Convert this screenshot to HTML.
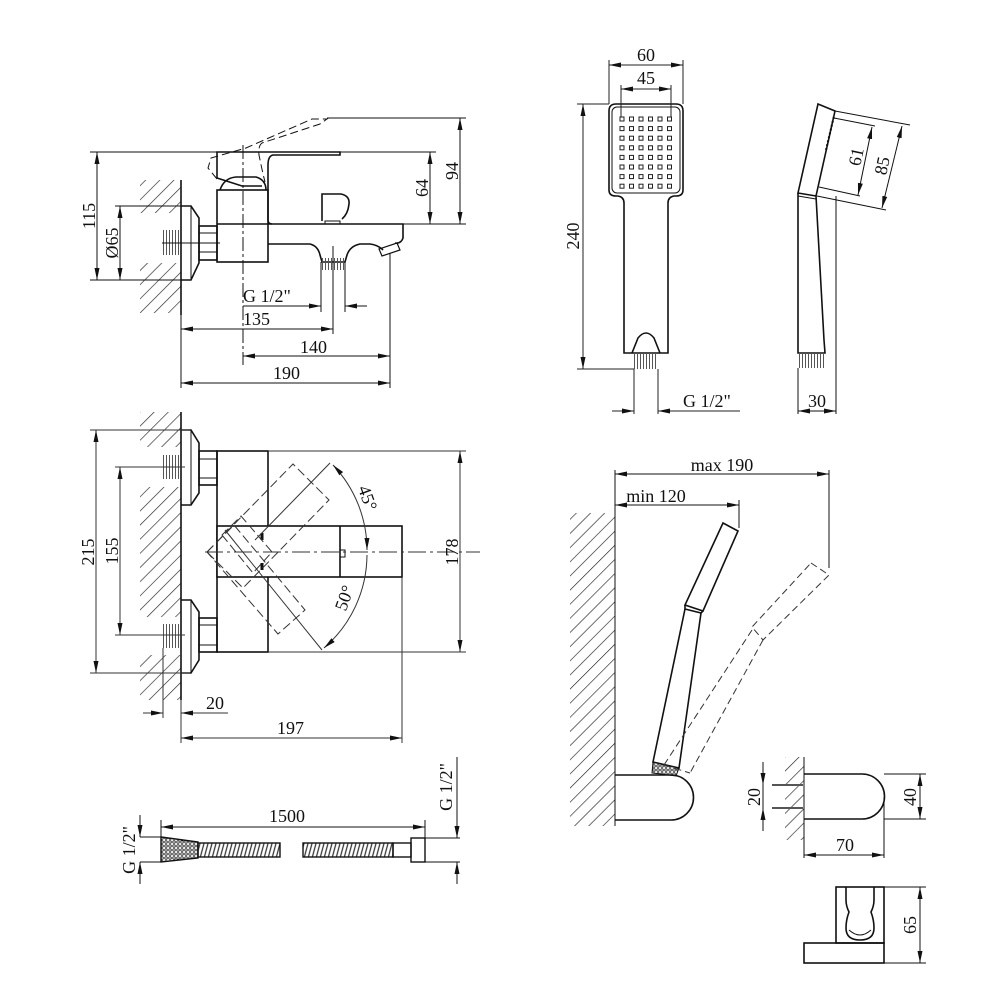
<!DOCTYPE html>
<html><head><meta charset="utf-8"><style>
html,body{margin:0;padding:0;background:#fff}
svg{display:block}
text{font-family:"Liberation Serif",serif;font-size:18px;fill:#111}
</style></head><body>
<svg width="1000" height="1000" viewBox="0 0 1000 1000" xmlns="http://www.w3.org/2000/svg">
<defs>
<pattern id="h" width="10" height="10" patternUnits="userSpaceOnUse" patternTransform="rotate(45)">
<line x1="0" y1="0" x2="0" y2="10" stroke="#222" stroke-width="1.3"/>
</pattern>
<pattern id="th" width="3" height="3" patternUnits="userSpaceOnUse">
<line x1="1.5" y1="0" x2="1.5" y2="3" stroke="#555" stroke-width="1"/>
</pattern>
<pattern id="mesh" width="4" height="4" patternUnits="userSpaceOnUse">
<circle cx="2" cy="2" r="1.3" fill="none" stroke="#222" stroke-width="0.9"/>
</pattern>
<pattern id="coil" width="4" height="16" patternUnits="userSpaceOnUse" patternTransform="skewX(-15)">
<line x1="2" y1="0" x2="2" y2="16" stroke="#333" stroke-width="1.3"/>
</pattern>
<marker id="a" markerWidth="12" markerHeight="6" refX="12" refY="3" orient="auto-start-reverse" markerUnits="userSpaceOnUse">
<path d="M0,0.5 L12,3 L0,5.5 Z" fill="#111"/>
</marker>
</defs>

<g fill="none" stroke="#111" stroke-width="1.6">
<rect x="140" y="180" width="41" height="33" fill="url(#h)" stroke="none"/>
<rect x="140" y="263" width="41" height="50" fill="url(#h)" stroke="none"/>
<line x1="181" y1="180" x2="181" y2="315"/>
<rect x="163" y="230" width="17" height="25" fill="url(#th)" stroke="none"/>
<path d="M181,206 H191 L199,218 V263 L191,280 H181"/>
<line x1="191" y1="206" x2="191" y2="280" stroke-width="1"/>
<rect x="199" y="226" width="18" height="34"/>
<line x1="199" y1="233" x2="217" y2="233" stroke-width="1"/>
<line x1="199" y1="252" x2="217" y2="252" stroke-width="1"/>
<rect x="217" y="190" width="51" height="72"/>
<line x1="217" y1="224" x2="268" y2="224"/>
<path d="M220,190 Q224,178 236,177 L256,177 Q266,180 266,190"/>
<path d="M217,178 V152 H340 V155 H273 Q268,156 268,165 V220 Q268,224 272,224"/>
<path d="M217,178 L242,186 H262"/>
<path d="M217,179 L208,168 L211,158 L246,148 L312,119 H327 L320,124 L262,143 Q258,146 259,155 Q262,170 265,182" stroke-dasharray="8,4" stroke-width="1"/>
<path d="M268,224 H403 V238 Q401,244 395,243"/>
<path d="M268,244 H310 Q318,246 320,255 L322,262 H345 L347,255 Q350,246 360,244 H370 Q378,245 383,250"/>
<path d="M379,249 L397,243 L400,250 L382,256 Z" stroke-width="1.2"/>
<rect x="321" y="258" width="24" height="12" fill="url(#th)" stroke="none"/>
<path d="M322,221 V194 H341 Q350,196 349,204 Q348,214 342,219"/>
<rect x="325" y="221" width="15" height="3" stroke-width="1"/>
<line x1="243" y1="145" x2="243" y2="365" stroke-width="1" stroke-dasharray="14,3,3,3"/>
<line x1="162" y1="243" x2="220" y2="243" stroke-width="1"/>
</g>

<g fill="none" stroke="#111" stroke-width="1">
<line x1="90" y1="152" x2="217" y2="152"/>
<line x1="90" y1="280" x2="181" y2="280"/>
<line x1="97" y1="152" x2="97" y2="280" marker-start="url(#a)" marker-end="url(#a)"/>
<line x1="115" y1="206" x2="181" y2="206"/>
<line x1="120" y1="206" x2="120" y2="280" marker-start="url(#a)" marker-end="url(#a)"/>
<line x1="340" y1="152" x2="436" y2="152"/>
<line x1="403" y1="224" x2="466" y2="224"/>
<line x1="327" y1="118" x2="466" y2="118"/>
<line x1="430" y1="152" x2="430" y2="224" marker-start="url(#a)" marker-end="url(#a)"/>
<line x1="460" y1="118" x2="460" y2="224" marker-start="url(#a)" marker-end="url(#a)"/>
<line x1="321" y1="262" x2="321" y2="312"/>
<line x1="345" y1="262" x2="345" y2="312"/>
<line x1="243" y1="306" x2="321" y2="306" marker-end="url(#a)"/>
<line x1="367" y1="306" x2="345" y2="306" marker-end="url(#a)"/>
<line x1="333" y1="246" x2="333" y2="334"/>
<line x1="181" y1="315" x2="181" y2="388"/>
<line x1="181" y1="329" x2="333" y2="329" marker-start="url(#a)" marker-end="url(#a)"/>
<line x1="390" y1="253" x2="390" y2="388"/>
<line x1="243" y1="356" x2="390" y2="356" marker-start="url(#a)" marker-end="url(#a)"/>
<line x1="181" y1="383" x2="390" y2="383" marker-start="url(#a)" marker-end="url(#a)"/>
</g>
<text x="243" y="302">G 1/2"</text>
<text x="243" y="325">135</text>
<text x="300" y="353">140</text>
<text x="273" y="379">190</text>
<text transform="translate(95,216) rotate(-90)" text-anchor="middle">115</text>
<text transform="translate(118,243) rotate(-90)" text-anchor="middle">Ø65</text>
<text transform="translate(428,188) rotate(-90)" text-anchor="middle">64</text>
<text transform="translate(458,171) rotate(-90)" text-anchor="middle">94</text>

<g fill="none" stroke="#111" stroke-width="1.6">
<rect x="140" y="412" width="41" height="35" fill="url(#h)" stroke="none"/>
<rect x="140" y="487" width="41" height="130" fill="url(#h)" stroke="none"/>
<rect x="140" y="655" width="41" height="45" fill="url(#h)" stroke="none"/>
<line x1="181" y1="412" x2="181" y2="700"/>
<rect x="163" y="455" width="17" height="24" fill="url(#th)" stroke="none"/>
<rect x="163" y="624" width="17" height="24" fill="url(#th)" stroke="none"/>
<path d="M181,430 H191 L199,443 V493 L191,505 H181"/>
<line x1="191" y1="430" x2="191" y2="505" stroke-width="1"/>
<rect x="199" y="451" width="18" height="34"/>
<line x1="199" y1="459" x2="217" y2="459" stroke-width="1"/>
<line x1="199" y1="478" x2="217" y2="478" stroke-width="1"/>
<path d="M181,600 H191 L199,612 V660 L191,673 H181"/>
<line x1="191" y1="600" x2="191" y2="673" stroke-width="1"/>
<rect x="199" y="618" width="18" height="34"/>
<line x1="199" y1="625" x2="217" y2="625" stroke-width="1"/>
<line x1="199" y1="645" x2="217" y2="645" stroke-width="1"/>
<rect x="217" y="451" width="51" height="201"/>
<rect x="217" y="526" width="185" height="51" fill="#fff"/>
<line x1="340" y1="526" x2="340" y2="577"/>
<path d="M340,550 H345 V557 H340" stroke-width="1"/>
<line x1="262" y1="533" x2="262" y2="540" stroke-width="3"/>
<line x1="262" y1="563" x2="262" y2="570" stroke-width="3"/>
</g>
<g fill="none" stroke="#333" stroke-width="1">
<line x1="205" y1="552" x2="480" y2="552" stroke-dasharray="18,4,3,4"/>
<g stroke-dasharray="9,4">
<polygon points="207,552 293,464 329,500 243,588"/>
<polygon points="207,552 234,525 305,610 278,634"/>
<polygon points="222,535 241,516 272,552 253,573"/>
</g>
<line x1="255" y1="540" x2="330" y2="463"/>
<line x1="225" y1="530" x2="322" y2="650"/>
<path d="M333,465 A124,124 0 0 1 367,550" marker-start="url(#a)" marker-end="url(#a)"/>
<path d="M367,555 A124,124 0 0 1 324,648" marker-end="url(#a)"/>
<line x1="90" y1="430" x2="190" y2="430"/>
<line x1="90" y1="673" x2="190" y2="673"/>
<line x1="96" y1="430" x2="96" y2="673" marker-start="url(#a)" marker-end="url(#a)"/>
<line x1="115" y1="467" x2="185" y2="467"/>
<line x1="115" y1="635" x2="185" y2="635"/>
<line x1="120" y1="467" x2="120" y2="635" marker-start="url(#a)" marker-end="url(#a)"/>
<line x1="268" y1="451" x2="466" y2="451"/>
<line x1="268" y1="652" x2="466" y2="652"/>
<line x1="460" y1="451" x2="460" y2="652" marker-start="url(#a)" marker-end="url(#a)"/>
<line x1="163" y1="648" x2="163" y2="718"/>
<line x1="143" y1="713" x2="163" y2="713" marker-end="url(#a)"/>
<line x1="228" y1="713" x2="181" y2="713" marker-end="url(#a)"/>
<line x1="181" y1="700" x2="181" y2="743"/>
<line x1="402" y1="577" x2="402" y2="743"/>
<line x1="181" y1="738" x2="402" y2="738" marker-start="url(#a)" marker-end="url(#a)"/>
</g>
<text x="206" y="709">20</text>
<text x="277" y="734">197</text>
<text transform="translate(94,552) rotate(-90)" text-anchor="middle">215</text>
<text transform="translate(118,551) rotate(-90)" text-anchor="middle">155</text>
<text transform="translate(458,552) rotate(-90)" text-anchor="middle">178</text>
<text transform="translate(362,500) rotate(70)" text-anchor="middle">45°</text>
<text transform="translate(350,600) rotate(-70)" text-anchor="middle">50°</text>

<g fill="none" stroke="#111" stroke-width="1.4">
<path d="M161,837 L198,842 V858 L161,862 Z" fill="url(#mesh)"/>
<rect x="198" y="843" width="82" height="14" fill="url(#coil)"/>
<rect x="303" y="843" width="90" height="14" fill="url(#coil)"/>
<rect x="393" y="843" width="18" height="14"/>
<rect x="411" y="838" width="14" height="24"/>
</g>
<g fill="none" stroke="#111" stroke-width="1">
<line x1="161" y1="820" x2="161" y2="837"/>
<line x1="425" y1="820" x2="425" y2="838"/>
<line x1="161" y1="827" x2="425" y2="827" marker-start="url(#a)" marker-end="url(#a)"/>
<line x1="140" y1="837" x2="161" y2="837"/>
<line x1="140" y1="862" x2="161" y2="862"/>
<line x1="140" y1="815" x2="140" y2="837" marker-end="url(#a)"/>
<line x1="140" y1="884" x2="140" y2="862" marker-end="url(#a)"/>
<line x1="425" y1="838" x2="460" y2="838"/>
<line x1="425" y1="862" x2="460" y2="862"/>
<line x1="457" y1="757" x2="457" y2="838" marker-end="url(#a)"/>
<line x1="457" y1="884" x2="457" y2="862" marker-end="url(#a)"/>
</g>
<text x="287" y="822" text-anchor="middle">1500</text>
<text transform="translate(135,850) rotate(-90)" text-anchor="middle">G 1/2"</text>
<text transform="translate(452,787) rotate(-90)" text-anchor="middle">G 1/2"</text>

<g fill="none" stroke="#111" stroke-width="1.6">
<path d="M616,104 H676 Q683,104 683,111 V190 Q683,196 676,196 H674 Q668,197 668,203 V353 H624 V203 Q624,197 618,196 H616 Q609,196 609,190 V111 Q609,104 616,104 Z"/>
<rect x="612" y="107" width="68" height="86" rx="5" stroke-width="1"/>
<path d="M632,353 L638,338 Q646,328 654,338 L660,353"/>
</g>
<rect x="634" y="353" width="24" height="16" fill="url(#th)"/>
<g fill="none" stroke="#222" stroke-width="1">
<g id="row">
<rect x="620" y="117" width="4" height="4"/><rect x="629.5" y="117" width="4" height="4"/><rect x="639" y="117" width="4" height="4"/><rect x="648.5" y="117" width="4" height="4"/><rect x="658" y="117" width="4" height="4"/><rect x="667.5" y="117" width="4" height="4"/>
</g>
<use href="#row" y="9.6"/><use href="#row" y="19.2"/><use href="#row" y="28.8"/><use href="#row" y="38.4"/><use href="#row" y="48"/><use href="#row" y="57.6"/><use href="#row" y="67.2"/>
<line x1="609" y1="60" x2="609" y2="104"/>
<line x1="683" y1="60" x2="683" y2="104"/>
<line x1="609" y1="65" x2="683" y2="65" marker-start="url(#a)" marker-end="url(#a)"/>
<line x1="621" y1="85" x2="621" y2="117"/>
<line x1="671" y1="85" x2="671" y2="117"/>
<line x1="621" y1="89" x2="671" y2="89" marker-start="url(#a)" marker-end="url(#a)"/>
<line x1="577" y1="104" x2="609" y2="104"/>
<line x1="577" y1="369" x2="634" y2="369"/>
<line x1="583" y1="104" x2="583" y2="369" marker-start="url(#a)" marker-end="url(#a)"/>
<line x1="634" y1="369" x2="634" y2="414"/>
<line x1="658" y1="369" x2="658" y2="414"/>
<line x1="612" y1="411" x2="634" y2="411" marker-end="url(#a)"/>
<line x1="740" y1="411" x2="658" y2="411" marker-end="url(#a)"/>
</g>
<text x="646" y="61" text-anchor="middle">60</text>
<text x="646" y="84" text-anchor="middle">45</text>
<text x="683" y="407">G 1/2"</text>
<text transform="translate(579,236) rotate(-90)" text-anchor="middle">240</text>

<g fill="none" stroke="#111" stroke-width="1.6">
<path d="M818,104 L835,111 L816,196 L798,193 Z"/>
<path d="M798,193 V353 H825 L824,340 L816,196"/>
<line x1="798" y1="196" x2="816" y2="199" stroke-width="1"/>
</g>
<rect x="798" y="353" width="26" height="15" fill="url(#th)"/>
<g fill="none" stroke="#111" stroke-width="1">
<line x1="826" y1="150" x2="834" y2="116" stroke-dasharray="2,2" stroke-width="2"/>
<line x1="835" y1="111" x2="910" y2="125"/>
<line x1="817" y1="196" x2="886" y2="210"/>
<line x1="902" y1="126" x2="882" y2="208" marker-start="url(#a)" marker-end="url(#a)"/>
<line x1="834" y1="118" x2="875" y2="126"/>
<line x1="819" y1="187" x2="860" y2="196"/>
<line x1="872" y1="127" x2="858" y2="195" marker-start="url(#a)" marker-end="url(#a)"/>
<line x1="798" y1="368" x2="798" y2="414"/>
<line x1="836" y1="196" x2="836" y2="414"/>
<line x1="798" y1="411" x2="836" y2="411" marker-start="url(#a)" marker-end="url(#a)"/>
</g>
<text transform="translate(862,158) rotate(-78)" text-anchor="middle">61</text>
<text transform="translate(888,167) rotate(-78)" text-anchor="middle">85</text>
<text x="817" y="407" text-anchor="middle">30</text>

<rect x="570" y="513" width="45" height="313" fill="url(#h)"/>
<g fill="none" stroke="#111" stroke-width="1.6">
<line x1="615" y1="470" x2="615" y2="826" stroke-width="1"/>
<path d="M615,775 H671 A22.5,22.5 0 0 1 671,820 H615"/>
<path d="M723,523 L738,531 L703,611 L685,605 Z"/>
<path d="M685,605 L685,609 L701,613 L703,611"/>
<path d="M685,609 L653,762 L679,768 L701,613"/>
<path d="M653,762 L652,773 L676,776 L679,768" fill="url(#mesh)" stroke-width="1"/>
</g>
<g fill="none" stroke="#333" stroke-width="1" stroke-dasharray="7,4">
<path d="M811,563 L829,575 L763,640 L752,627 Z"/>
<path d="M752,630 L664,765 M763,640 L690,773 M664,765 L690,773"/>
</g>
<g fill="none" stroke="#111" stroke-width="1">
<line x1="615" y1="474" x2="829" y2="474" marker-start="url(#a)" marker-end="url(#a)"/>
<line x1="829" y1="470" x2="829" y2="568"/>
<line x1="615" y1="505" x2="739" y2="505" marker-start="url(#a)" marker-end="url(#a)"/>
<line x1="739" y1="500" x2="739" y2="528"/>
</g>
<text x="722" y="471" text-anchor="middle">max 190</text>
<text x="656" y="502" text-anchor="middle">min 120</text>

<rect x="785" y="757" width="19" height="83" fill="url(#h)"/>
<g fill="none" stroke="#111" stroke-width="1.6">
<line x1="804" y1="757" x2="804" y2="840" stroke-width="1"/>
<path d="M804,774 H862 A22.5,22.5 0 0 1 862,819 H804"/>
<line x1="772" y1="785" x2="803" y2="785" stroke-width="2" stroke="#555"/>
<line x1="772" y1="808" x2="803" y2="808" stroke-width="2" stroke="#555"/>
<rect x="836" y="887" width="48" height="56"/>
<rect x="804" y="943" width="80" height="20"/>
<path d="M846,887 V900 Q846,906 849,912 Q846,920 846,928 Q846,940 860,940 Q874,940 874,928 Q874,920 871,912 Q874,906 874,900 V887"/>
<path d="M849,930 Q860,940 871,930" stroke-width="1"/>
</g>
<g fill="none" stroke="#111" stroke-width="1">
<line x1="763" y1="762" x2="763" y2="785" marker-end="url(#a)"/>
<line x1="763" y1="831" x2="763" y2="808" marker-end="url(#a)"/>
<line x1="763" y1="785" x2="763" y2="808"/>
<line x1="884" y1="774" x2="926" y2="774"/>
<line x1="884" y1="819" x2="926" y2="819"/>
<line x1="920" y1="774" x2="920" y2="819" marker-start="url(#a)" marker-end="url(#a)"/>
<line x1="804" y1="840" x2="804" y2="858"/>
<line x1="884" y1="797" x2="884" y2="858"/>
<line x1="804" y1="855" x2="884" y2="855" marker-start="url(#a)" marker-end="url(#a)"/>
<line x1="884" y1="887" x2="926" y2="887"/>
<line x1="884" y1="963" x2="926" y2="963"/>
<line x1="920" y1="887" x2="920" y2="963" marker-start="url(#a)" marker-end="url(#a)"/>
</g>
<text transform="translate(760,797) rotate(-90)" text-anchor="middle">20</text>
<text transform="translate(916,797) rotate(-90)" text-anchor="middle">40</text>
<text x="845" y="851" text-anchor="middle">70</text>
<text transform="translate(916,925) rotate(-90)" text-anchor="middle">65</text>
</svg>
</body></html>
